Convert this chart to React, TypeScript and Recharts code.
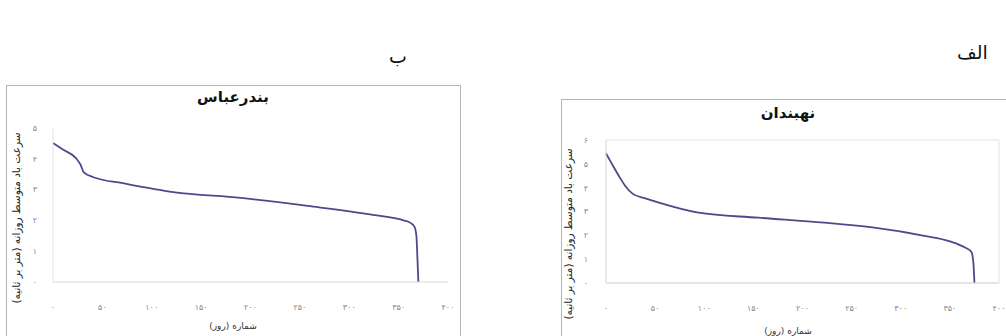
import React from 'react';
import { LineChart, Line, XAxis, YAxis, ReferenceArea } from 'recharts';

// Left chart: بندرعباس (day index vs daily mean wind speed)
const leftDays = [0, 10, 23, 28, 31, 41, 72, 122, 190, 258, 324, 355, 362, 366, 368, 369, 370];
const leftVals = [4.51, 4.3, 4.03, 3.8, 3.57, 3.4, 3.2, 2.92, 2.73, 2.47, 2.18, 2.0, 1.92, 1.8, 1.5, 0.8, 0];

// Right chart: نهبندان
const rightDays = [0, 6, 13, 20, 27, 40, 53, 94, 155, 222, 273, 324, 350, 365, 372, 374, 375];
const rightVals = [5.44, 5.0, 4.5, 4.05, 3.75, 3.55, 3.38, 2.95, 2.74, 2.53, 2.32, 1.98, 1.75, 1.5, 1.3, 0.8, 0];

const xTicks = [0, 50, 100, 150, 200, 250, 300, 350, 400];
const leftYTicks = [0, 1, 2, 3, 4, 5];
const rightYTicks = [0, 1, 2, 3, 4, 5, 6];

const leftTitle = 'بندرعباس';
const rightTitle = 'نهبندان';
const xTitle = 'شماره (روز)';
const yTitle = 'سرعت باد متوسط روزانه (متر بر ثانیه)';
const labelA = 'الف';
const labelB = 'ب';

const leftData = leftDays.map((d, i) => ({ day: d, v: leftVals[i] }));
const rightData = rightDays.map((d, i) => ({ day: d, v: rightVals[i] }));

const faDigits = '۰۱۲۳۴۵۶۷۸۹';
const toFa = (n: number) => String(n).replace(/[0-9]/g, (c) => faDigits[Number(c)]);

const FONT = '"DejaVu Sans", "Noto Sans", sans-serif';
const LINE = '#4a4a8c';
const tickStyle = { fontSize: 8, fill: '#8a8a8a', fontFamily: FONT };

export default function App() {
  return (
    <div style={{ position: 'absolute', left: 0, top: 0, width: 1006, height: 336, overflow: 'hidden', background: '#fff', fontFamily: FONT }}>
      <div style={{ position: 'absolute', left: 957, top: 41, fontSize: 19, color: '#111', direction: 'rtl' }}>{labelA}</div>
      <div style={{ position: 'absolute', left: 389, top: 45, fontSize: 19, color: '#111', direction: 'rtl' }}>{labelB}</div>

      {/* Left chart */}
      <div style={{ position: 'absolute', left: 6, top: 85, width: 455, height: 270, border: '1.5px solid #b5b5b5', boxSizing: 'border-box' }}>
        <LineChart width={452} height={250} data={leftData} margin={{ top: 42, right: 11, bottom: 24, left: 26 }}>
          <XAxis dataKey="day" type="number" domain={[0, 400]} ticks={xTicks} tickFormatter={toFa}
            axisLine={{ stroke: '#d8d8d8' }} tickLine={false} tick={tickStyle} tickMargin={16} interval={0} />
          <YAxis type="number" domain={[0, 5]} ticks={leftYTicks} tickFormatter={toFa} width={20}
            axisLine={{ stroke: '#e2e2e2' }} tickLine={false} tick={tickStyle} tickMargin={10} interval={0} />
          <Line dataKey="v" type="monotone" stroke={LINE} strokeWidth={1.8} dot={false} isAnimationActive={false} />
        </LineChart>
        <div style={{ position: 'absolute', left: 0, width: 452, top: 2, textAlign: 'center', fontSize: 15, fontWeight: 'bold', color: '#111', direction: 'rtl' }}>{leftTitle}</div>
        <div style={{ position: 'absolute', left: 0, width: 452, top: 235, textAlign: 'center', fontSize: 9, color: '#333', direction: 'rtl' }}>{xTitle}</div>
        <div style={{ position: 'absolute', left: 9, top: 132, width: 0, height: 0 }}>
          <div style={{ position: 'absolute', transform: 'translate(-50%, -50%) rotate(-90deg)', whiteSpace: 'nowrap', fontSize: 10.5, color: '#222', direction: 'rtl' }}>{yTitle}</div>
        </div>
      </div>

      {/* Right chart */}
      <div style={{ position: 'absolute', left: 561, top: 99, width: 470, height: 260, border: '1.5px solid #b5b5b5', boxSizing: 'border-box' }}>
        <LineChart width={467} height={240} data={rightData} margin={{ top: 40, right: 30, bottom: 27, left: 24 }}>
          <ReferenceArea x1={0} x2={400} y1={0} y2={6} fill="none" stroke="#e3e3e3" ifOverflow="visible" />
          <XAxis dataKey="day" type="number" domain={[0, 400]} ticks={xTicks} tickFormatter={toFa}
            axisLine={{ stroke: '#d8d8d8' }} tickLine={false} tick={tickStyle} tickMargin={16} interval={0} />
          <YAxis type="number" domain={[0, 6]} ticks={rightYTicks} tickFormatter={toFa} width={20}
            axisLine={{ stroke: '#e2e2e2' }} tickLine={false} tick={tickStyle} tickMargin={12} interval={0} />
          <Line dataKey="v" type="monotone" stroke={LINE} strokeWidth={1.8} dot={false} isAnimationActive={false} />
        </LineChart>
        <div style={{ position: 'absolute', left: 0, width: 452, top: 4, textAlign: 'center', fontSize: 15, fontWeight: 'bold', color: '#111', direction: 'rtl' }}>{rightTitle}</div>
        <div style={{ position: 'absolute', left: 0, width: 452, top: 226, textAlign: 'center', fontSize: 9, color: '#333', direction: 'rtl' }}>{xTitle}</div>
        <div style={{ position: 'absolute', left: 6, top: 134, width: 0, height: 0 }}>
          <div style={{ position: 'absolute', transform: 'translate(-50%, -50%) rotate(-90deg)', whiteSpace: 'nowrap', fontSize: 10.5, color: '#222', direction: 'rtl' }}>{yTitle}</div>
        </div>
      </div>
    </div>
  );
}
